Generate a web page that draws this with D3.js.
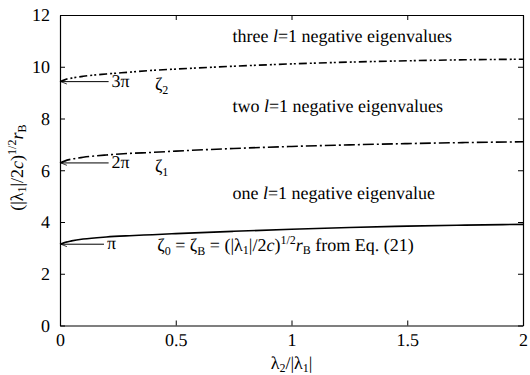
<!DOCTYPE html>
<html>
<head>
<meta charset="utf-8">
<script src="https://cdn.jsdelivr.net/npm/d3@7"></script>
<style>
  body { margin: 0; background: #fff; }
</style>
</head>
<body>
<svg id="chart"></svg>
<script>
// curve data: x = lambda2/|lambda1|
const lambdaRatio = [0, 0.02, 0.05, 0.1, 0.2, 0.3, 0.4, 0.5, 0.75, 1, 1.25, 1.5, 1.75, 2]
const zeta0 = [3.14, 3.21, 3.27, 3.34, 3.42, 3.47, 3.51, 3.55, 3.64, 3.72, 3.79, 3.84, 3.88, 3.91]
const zeta1 = [6.28, 6.36, 6.43, 6.50, 6.59, 6.65, 6.69, 6.74, 6.84, 6.92, 6.98, 7.03, 7.07, 7.10]
const zeta2 = [9.42, 9.50, 9.56, 9.63, 9.72, 9.79, 9.86, 9.91, 10.02, 10.11, 10.18, 10.23, 10.27, 10.29]

const xTicks = [0, 0.5, 1, 1.5, 2]
const yTicks = [0, 2, 4, 6, 8, 10, 12]
const xTickLabels = ['0', '0.5', '1', '1.5', '2']

// arrows marking the limits at lambda2 = 0
const piLimits = [Math.PI, 2 * Math.PI, 3 * Math.PI]
const piLabels = ['π', '2π', '3π']
const arrowEnds = [0.19, 0.21, 0.21]

// smaller sizes came out in a sans face, 18 stays serif
const FONT = 'Liberation Serif'
const FS = 18
const SUB = 12
const width = 530
const height = 375
const margin = {top: 15, right: 7, bottom: 49.5, left: 60}

const svg = d3.select('#chart')
  .attr('width', width)
  .attr('height', height)
  .attr('text-rendering', 'geometricPrecision')

const x = d3.scaleLinear().domain([0, 2]).range([margin.left, width - margin.right])
const y = d3.scaleLinear().domain([0, 12]).range([height - margin.bottom, margin.top])

svg.append('defs').append('marker')
  .attr('id', 'arrow')
  .attr('viewBox', '0 0 10 10')
  .attr('refX', 9).attr('refY', 5)
  .attr('markerWidth', 6).attr('markerHeight', 6)
  .attr('markerUnits', 'userSpaceOnUse')
  .attr('orient', 'auto')
  .append('path')
    .attr('d', 'M0,1 L10,5 L0,9')
    .attr('fill', 'none')
    .attr('stroke', '#000')
    .attr('stroke-width', 1.3)

// frame with inward ticks on all four sides
const tickLen = 5
const gx = svg.append('g')
  .attr('transform', `translate(0,${y(0)})`)
  .call(d3.axisBottom(x).tickValues(xTicks).tickSizeInner(-tickLen).tickSizeOuter(0).tickFormat((d, i) => xTickLabels[i]))
gx.selectAll('.tick text').attr('y', 8)
svg.append('g')
  .attr('transform', `translate(0,${y(12)})`)
  .call(d3.axisTop(x).tickValues(xTicks).tickSizeInner(-tickLen).tickSizeOuter(0).tickFormat(''))
const gy = svg.append('g')
  .attr('transform', `translate(${x(0)},0)`)
  .call(d3.axisLeft(y).tickValues(yTicks).tickSizeInner(-tickLen).tickSizeOuter(0))
gy.selectAll('.tick text').attr('x', -10)
svg.append('g')
  .attr('transform', `translate(${x(2)},0)`)
  .call(d3.axisRight(y).tickValues(yTicks).tickSizeInner(-tickLen).tickSizeOuter(0).tickFormat(''))

svg.selectAll('g').attr('font-family', null).attr('font-size', FS)
svg.selectAll('.domain').attr('stroke', '#000').attr('stroke-width', 1.2)
svg.selectAll('.tick line').attr('stroke', '#000')
svg.selectAll('.tick text').attr('fill', '#000')

// curves
const line = d3.line().x(d => x(d[0])).y(d => y(d[1])).curve(d3.curveMonotoneX)
const curves = [
  {vals: zeta0, dash: null},
  {vals: zeta1, dash: '11,3,2,3'},
  {vals: zeta2, dash: '8,3,2,2,2,3'}
]
curves.forEach(c => {
  svg.append('path')
    .datum(lambdaRatio.map((l, i) => [l, c.vals[i]]))
    .attr('d', line)
    .attr('fill', 'none')
    .attr('stroke', '#000')
    .attr('stroke-width', 1.6)
    .attr('stroke-dasharray', c.dash)
})

// arrows to pi, 2pi, 3pi
piLimits.forEach((v, i) => {
  svg.append('line')
    .attr('x1', x(arrowEnds[i])).attr('x2', x(0) + 1.5)
    .attr('y1', y(v)).attr('y2', y(v))
    .attr('stroke', '#000')
    .attr('stroke-width', 1)
    .attr('marker-end', 'url(#arrow)')
  svg.append('text')
    .attr('x', x(arrowEnds[i]) + 3)
    .attr('y', y(v) + 5)
    .attr('font-size', FS)
    .text(piLabels[i])
})

function zetaLabel(xv, yv, sub) {
  const t = svg.append('text').attr('x', x(xv)).attr('y', y(yv)).attr('font-size', FS)
  t.append('tspan').text('ζ')
  t.append('tspan').attr('dy', 4).attr('font-size', SUB).text(sub)
  return t
}
zetaLabel(0.41, 9.12, '2')
zetaLabel(0.41, 5.95, '1')

// region labels
const regionText = [
  {y: 10.95, pre: 'three '},
  {y: 8.25, pre: 'two '},
  {y: 4.9, pre: 'one '}
]
regionText.forEach((r, i) => {
  const t = svg.append('text').attr('x', x(0.745)).attr('y', y(r.y)).attr('font-size', FS)
  t.append('tspan').text(r.pre)
  t.append('tspan').attr('font-style', 'italic').text('l')
  t.append('tspan').text(i === 2 ? '=1 negative eigenvalue' : '=1 negative eigenvalues')
})

// zeta0 equation
const eq = svg.append('text').attr('x', x(0.42)).attr('y', y(2.86)).attr('font-size', FS)
eq.append('tspan').text('ζ')
eq.append('tspan').attr('dy', 4).attr('font-size', SUB).text('0')
eq.append('tspan').attr('dy', -4).text(' = ζ')
eq.append('tspan').attr('dy', 4).attr('font-size', SUB).text('B')
eq.append('tspan').attr('dy', -4).text(' = (|λ')
eq.append('tspan').attr('dy', 3).attr('font-size', SUB).text('1')
eq.append('tspan').attr('dy', -3).text('|/2')
eq.append('tspan').attr('font-style', 'italic').text('c')
eq.append('tspan').text(')')
eq.append('tspan').attr('dy', -7).attr('font-size', SUB).text('1/2')
eq.append('tspan').attr('dy', 7).attr('font-style', 'italic').text('r')
eq.append('tspan').attr('dy', 3).attr('font-size', SUB).text('B')
eq.append('tspan').attr('dy', -3).text('  from Eq. (21)')

// x axis label
const xl = svg.append('text')
  .attr('x', x(1)).attr('y', 369)
  .attr('text-anchor', 'middle')
  .attr('font-size', FS)
xl.append('tspan').text('λ')
xl.append('tspan').attr('dy', 3).attr('font-size', SUB).text('2')
xl.append('tspan').attr('dy', -3).text('/|λ')
xl.append('tspan').attr('dy', 3).attr('font-size', SUB).text('1')
xl.append('tspan').attr('dy', -3).text('|')

// y axis label
const yl = svg.append('text')
  .attr('transform', `translate(23,${y(6.1)}) rotate(-90)`)
  .attr('text-anchor', 'middle')
  .attr('font-size', FS)
yl.append('tspan').text('(|λ')
yl.append('tspan').attr('dy', 3).attr('font-size', SUB).text('1')
yl.append('tspan').attr('dy', -3).text('|/2')
yl.append('tspan').attr('font-style', 'italic').text('c')
yl.append('tspan').text(')')
yl.append('tspan').attr('dy', -7).attr('font-size', SUB).text('1/2')
yl.append('tspan').attr('dy', 7).attr('font-style', 'italic').text('r')
yl.append('tspan').attr('dy', 3).attr('font-size', SUB).text('B')

// set the serif face on every text node directly
svg.selectAll('text').attr('font-family', FONT)
svg.selectAll('tspan').attr('font-family', FONT)
</script>
</body>
</html>
